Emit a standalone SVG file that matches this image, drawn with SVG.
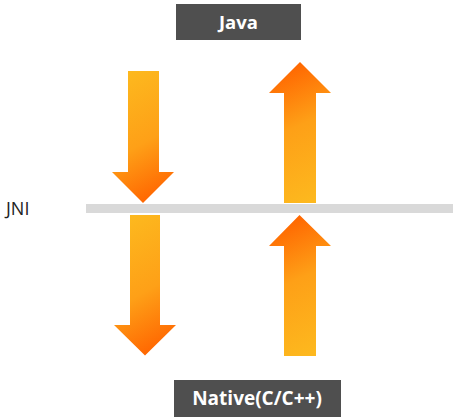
<svg xmlns="http://www.w3.org/2000/svg" width="460" height="419" viewBox="0 0 460 419">
<style>
.box{fill:#4f4f4f}
.lbl{font-family:"Open Sans","Noto Sans","Liberation Sans",sans-serif;font-weight:bold;fill:#ffffff;text-anchor:middle}
.jni{font-family:"Open Sans","Noto Sans","Liberation Sans",sans-serif;font-size:18px;fill:#222222}
.down{fill:url(#gDown)}
.up{fill:url(#gUp)}
</style>
<defs>
<linearGradient id="gDown" x1="0.35" y1="0" x2="0.6" y2="1">
<stop offset="0" stop-color="#fdb81e"/>
<stop offset="0.55" stop-color="#fea017"/>
<stop offset="1" stop-color="#ff6400"/>
</linearGradient>
<linearGradient id="gUp" x1="0.4" y1="0" x2="0.6" y2="1">
<stop offset="0" stop-color="#ff6400"/>
<stop offset="0.45" stop-color="#fea017"/>
<stop offset="1" stop-color="#fdb81e"/>
</linearGradient>
</defs>
<g id="java">
<rect class="box" x="176" y="4" width="125" height="36"/>
<text class="lbl" x="238.5" y="28.5" font-size="18.5">Java</text>
</g>
<g id="native">
<rect class="box" x="174" y="380" width="167" height="37"/>
<text class="lbl" x="257" y="405" font-size="19">Native(C/C++)</text>
</g>
<g id="jni">
<rect x="86" y="204" width="367" height="9" fill="#d9d9d9"/>
<text class="jni" x="6" y="214.5">JNI</text>
</g>
<g id="connectors">
<polygon class="down" points="128,71 159,71 159,172 174,172 143,203 112,172 128,172"/>
<polygon class="up" points="300,62 331,93 316,93 316,203 284,203 284,93 269,93"/>
<polygon class="down" points="130,215 160,215 160,325 176,325 145,355.5 114,325 130,325"/>
<polygon class="up" points="299.5,215 331,246 316,246 316,356 284,356 284,246 269,246"/>
</g>
</svg>
